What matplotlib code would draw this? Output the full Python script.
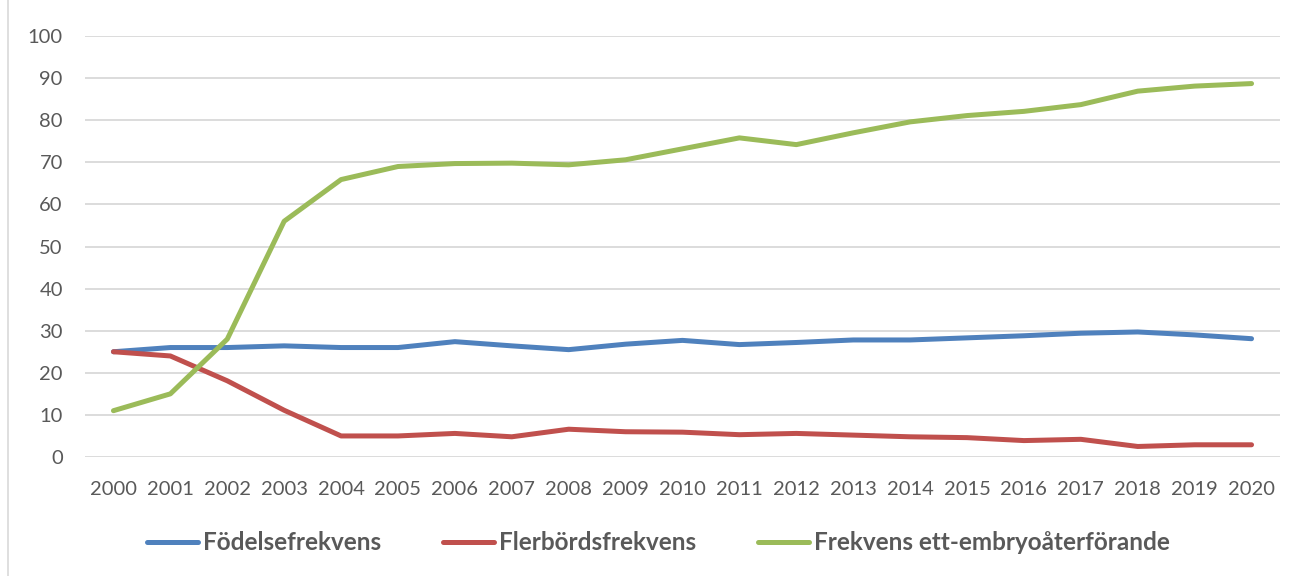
import matplotlib
matplotlib.use("Agg")
import matplotlib.pyplot as plt
from matplotlib.patches import Rectangle

years = [str(y) for y in range(2000, 2021)]
fodelse = [25.0, 26.0, 26.0, 26.4, 26.0, 26.0, 27.4, 26.4, 25.5, 26.8, 27.7,
           26.7, 27.2, 27.8, 27.8, 28.3, 28.8, 29.4, 29.7, 29.0, 28.1]
flerbord = [25.0, 24.0, 18.1, 11.1, 5.0, 5.0, 5.6, 4.8, 6.6, 6.0, 5.9,
            5.3, 5.6, 5.2, 4.8, 4.6, 3.9, 4.2, 2.5, 2.9, 2.9]
ett_embryo = [11.0, 15.0, 28.0, 56.0, 65.9, 69.0, 69.7, 69.8, 69.4, 70.6, 73.2,
              75.8, 74.2, 77.0, 79.6, 81.1, 82.1, 83.7, 86.9, 88.1, 88.7]
labels = ["Födelsefrekvens", "Flerbördsfrekvens", "Frekvens ett-embryoåterförande"]
colors = ["#4F81BD", "#C0504D", "#9BBB59"]

plt.rcParams['font.family'] = ['Lato', 'DejaVu Sans']

fig = plt.figure(figsize=(12.97, 5.76), dpi=100)
ax = fig.add_axes([85/1297, 1 - 457/576, (1280-85)/1297, (457-36)/576])

x = list(range(len(years)))
for vals, lab, col in zip([fodelse, flerbord, ett_embryo], labels, colors):
    ax.plot(x, vals, color=col, lw=3.6, label=lab, solid_capstyle='round', solid_joinstyle='round')

ax.set_xlim(-0.5, len(years) - 0.5)
ax.set_ylim(0, 100)
ax.set_yticks(range(0, 101, 10))
ax.set_xticks(x)
ax.set_xticklabels(years)
ax.grid(axis='y', color='#D9D9D9', lw=1.3)
ax.set_axisbelow(True)
for s in ax.spines.values():
    s.set_visible(False)
ax.tick_params(length=0, labelsize=14.5, labelcolor='#595959')
ax.tick_params(axis='x', pad=17)
ax.tick_params(axis='y', pad=16)

leg = fig.legend(loc='center', bbox_to_anchor=(658/1297, 1 - 543/576), ncol=3, frameon=False,
                 prop={'size': 17.5, 'weight': 'bold'}, handlelength=2.1, columnspacing=2.55,
                 handletextpad=0.2)
for t in leg.get_texts():
    t.set_color('#595959')

fig.patches.append(Rectangle((8/1297, -0.01), 1.1, 1.1, transform=fig.transFigure,
                             fill=False, edgecolor='#D9D9D9', lw=1.2))

fig.savefig("out.png", dpi=100)
